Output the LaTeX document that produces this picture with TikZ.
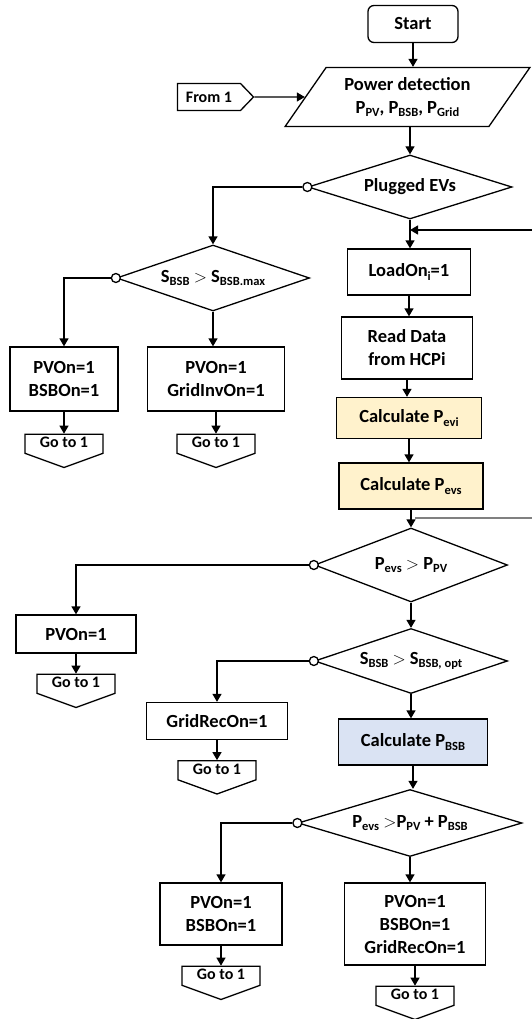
\documentclass[tikz,border=0pt]{standalone}
\usepackage{fontspec}
\setmainfont{Carlito}
\usetikzlibrary{positioning}
\usetikzlibrary{shapes.geometric}
\usetikzlibrary{shapes.symbols}
\usetikzlibrary{arrows.meta}

\definecolor{calcyellow}{HTML}{FFF2CC}
\definecolor{calcblue}{HTML}{DAE3F3}
\newcommand{\sbs}[1]{\raisebox{-0.35ex}{\fontsize{12.5}{12.5}\selectfont #1}}

\begin{document}
\begin{tikzpicture}[x=1pt,y=-1pt,
	every node/.style={font=\fontsize{18.5}{23}\selectfont\bfseries,line width=1.3pt},
	terminal/.style={draw,rectangle,rounded corners=6pt,minimum width=90pt,minimum height=37pt},
	io/.style={draw,trapezium,trapezium left angle=51,trapezium right angle=129,trapezium stretches=true,minimum width=245pt,minimum height=59pt,align=center,inner sep=0pt},
	proc/.style={draw,rectangle,align=center,inner sep=2pt},
	decide/.style={draw,diamond,aspect=3,inner sep=0pt},
	dot/.style={draw,circle,fill=white,minimum size=9pt,inner sep=0pt},
	fromto/.style={draw,signal,signal to=east,signal pointer angle=92,minimum width=76pt,minimum height=27pt,font=\fontsize{16}{18}\selectfont\bfseries},
	goto/.style={draw,signal,signal to=south,signal pointer angle=140,minimum width=78pt,text height=11pt,text depth=3pt,inner ysep=2.5pt,font=\fontsize{16}{18}\selectfont\bfseries},
	arr/.style={line width=1.3pt,-{Triangle[width=9pt,length=8pt]}},
	line/.style={line width=1.3pt}]
	\useasboundingbox (0,0) rectangle (532,1019);

	% main column
	\node[terminal] (start) at (413,24) {Start};
	\node[io] (detect) at (407.5,97) {Power detection\\P\sbs{PV}, P\sbs{BSB}, P\sbs{Grid}};
	\node[fromto] (from1) at (209,97) {From 1};
	\node[decide,minimum width=204pt,minimum height=64pt] (plug) at (410,187) {Plugged EVs};
	\node[proc,minimum width=123pt,minimum height=46pt] (loadon) at (409,272) {LoadOn\sbs{i}=1};
	\node[proc,minimum width=131pt,minimum height=62pt] (read) at (407,348) {Read Data\\from HCPi};
	\node[proc,fill=calcyellow,minimum width=145pt,minimum height=41pt] (pevi) at (409,418) {Calculate P\sbs{evi}};
	\node[proc,fill=calcyellow,minimum width=144pt,minimum height=46pt] (pevs) at (411,486) {Calculate P\sbs{evs}};
	\node[decide,minimum width=193pt,minimum height=74pt] (dpv) at (411,565) {P\sbs{evs} $>$ P\sbs{PV}};
	\node[decide,minimum width=193pt,minimum height=65pt] (dsopt) at (411,661) {S\sbs{BSB} $>$ S\sbs{BSB, opt}};
	\node[proc,fill=calcblue,minimum width=149pt,minimum height=46pt] (pbsb) at (413,742) {Calculate P\sbs{BSB}};
	\node[decide,minimum width=224pt,minimum height=67pt] (dsum) at (410,823) {P\sbs{evs} $>$P\sbs{PV} + P\sbs{BSB}};
	\node[proc,minimum width=141pt,minimum height=82pt] (all) at (415,924) {PVOn=1\\BSBOn=1\\GridRecOn=1};
	\node[goto,below=20pt of all] (go6) {Go to 1};

	% left branches
	\node[decide,minimum width=193pt,minimum height=66pt] (dsmax) at (213,278) {S\sbs{BSB} $>$ S\sbs{BSB.max}};
	\node[proc,minimum width=108pt,minimum height=64pt] (pvbsb) at (64,379) {PVOn=1\\BSBOn=1};
	\node[proc,minimum width=137pt,minimum height=64pt] (pvinv) at (216,379) {PVOn=1\\GridInvOn=1};
	\node[goto,below=22pt of pvbsb] (go1) {Go to 1};
	\node[goto,below=22pt of pvinv] (go2) {Go to 1};
	\node[proc,minimum width=120pt,minimum height=38pt] (pvonly) at (76,634) {PVOn=1};
	\node[goto,below=20pt of pvonly] (go3) {Go to 1};
	\node[proc,minimum width=141pt,minimum height=37pt] (gridrec) at (217,721) {GridRecOn=1};
	\node[goto,below=20pt of gridrec] (go4) {Go to 1};
	\node[proc,minimum width=122pt,minimum height=62pt] (pvbsb2) at (221,914) {PVOn=1\\BSBOn=1};
	\node[goto,below=20pt of pvbsb2] (go5) {Go to 1};

	% no-branch circles
	\node[dot] (nplug) at (plug.west) {};
	\node[dot] (nsmax) at (dsmax.west) {};
	\node[dot] (npv) at (dpv.west) {};
	\node[dot] (nsopt) at (dsopt.west) {};
	\node[dot] (nsum) at (dsum.west) {};

	% loop ends
	\coordinate (loopin) at (532,230);
	\coordinate (gstart) at (415,518);
	\coordinate (gend) at (532,518);

	% connectors
	\draw[arr] (start.south) -- (start.south |- detect.north);
	\draw[arr] (from1.east) -- (detect.west);
	\draw[arr] (plug.north |- detect.south) -- (plug.north);
	\draw[arr] (plug.south) -- (plug.south |- loadon.north);
	\draw[arr] (loadon.south) -- (loadon.south |- read.north);
	\draw[arr] (read.south) -- (read.south |- pevi.north);
	\draw[arr] (pevi.south) -- (pevi.south |- pevs.north);
	\draw[arr] (pevs.south) -- (pevs.south |- dpv.north);
	\draw[arr] (dpv.south) -- (dpv.south |- dsopt.north);
	\draw[arr] (dsopt.south) -- (dsopt.south |- pbsb.north);
	\draw[arr] (pbsb.south) -- (pbsb.south |- dsum.north);
	\draw[arr] (dsum.south) -- (dsum.south |- all.north);
	\draw[arr] (all.south) -- (go6.north);
	\draw[arr] (loopin) -- (loopin -| plug.south);
	\draw[gray,line width=2.2pt] (gstart) -- (gend);

	\draw[arr] (nplug.west) -| (dsmax.north);
	\draw[arr] (nsmax.west) -| (pvbsb.north);
	\draw[arr] (dsmax.south) -- (dsmax.south |- pvinv.north);
	\draw[arr] (pvbsb.south) -- (go1.north);
	\draw[arr] (pvinv.south) -- (go2.north);
	\draw[arr] (npv.west) -| (pvonly.north);
	\draw[arr] (pvonly.south) -- (go3.north);
	\draw[arr] (nsopt.west) -| (gridrec.north);
	\draw[arr] (gridrec.south) -- (go4.north);
	\draw[arr] (nsum.west) -| (pvbsb2.north);
	\draw[arr] (pvbsb2.south) -- (go5.north);
\end{tikzpicture}
\end{document}
